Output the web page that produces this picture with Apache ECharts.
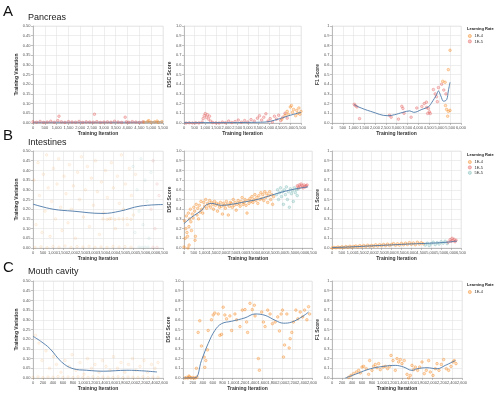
<!DOCTYPE html>
<html><head><meta charset="utf-8">
<script src="https://cdn.jsdelivr.net/npm/echarts@6/dist/echarts.min.js"></script>
<style>html,body{margin:0;padding:0;background:#fff}#c{width:500px;height:394px}</style>
</head><body><div id="c"></div>
<script>
// ---------- labels ----------
const rowTitles = ['Pancreas', 'Intestines', 'Mouth cavity'];
const rowLetters = ['A', 'B', 'C'];
const legendRows = [['1E-4', '1E-5'], ['1E-4', '1E-5', '5E-5'], ['1E-4']];
const yNames = ['Training Variation', 'DSC Score', 'F1 Score'];
const xName = 'Training Iteration';

// ---------- Row A: Pancreas ----------
const pancVarRed = [[0,0.006],[150,0.004],[300,0.008],[450,0.003],[600,0.005],[750,0.009],[900,0.004],[1050,0.012],[1100,0.035],[1200,0.006],[1350,0.003],[1500,0.007],[1650,0.005],[1800,0.004],[1950,0.008],[2100,0.003],[2250,0.006],[2400,0.005],[2550,0.004],[2600,0.045],[2700,0.007],[2850,0.003],[3000,0.005],[3150,0.006],[3300,0.004],[3450,0.009],[3600,0.005],[3750,0.003],[3900,0.03],[3950,0.006],[4050,0.004],[4200,0.007],[4350,0.005],[4500,0.003],[4650,0.006]];
const pancVarOrange = [[4700,0.005],[4850,0.008],[4900,0.012],[5000,0.004],[5150,0.006],[5250,0.01],[5300,0.003],[5450,0.007]];
const pancVarTrend = [[0,0.004],[1000,0.004],[2000,0.004],[3000,0.004],[4000,0.004],[5000,0.005],[5500,0.005]];

const pancDscRed = [[100,0],[250,0.002],[400,0],[550,0.003],[700,0.001],[850,0.01],[900,0.045],[950,0.075],[1000,0.097],[1050,0.06],[1100,0.085],[1150,0.04],[1200,0.07],[1250,0.02],[1350,0.005],[1500,0.002],[1650,0],[1800,0.01],[1950,0.003],[2100,0.02],[2250,0.005],[2400,0.015],[2550,0.03],[2700,0.008],[2850,0.025],[3000,0.01],[3150,0.035],[3300,0.02],[3450,0.05],[3550,0.075],[3650,0.03],[3750,0.06],[3850,0.095],[3950,0.02],[4050,0.045],[4150,0.01],[4250,0.07],[4350,0.04],[4450,0.08],[4550,0.025],[4650,0.06],[4750,0.1],[4850,0.05]];
const pancDscOrange = [[4600,0.04],[4750,0.08],[4850,0.12],[4900,0.09],[5000,0.165],[5050,0.18],[5100,0.11],[5150,0.14],[5250,0.075],[5300,0.13],[5350,0.1],[5400,0.155],[5450,0.09],[5500,0.12]];
const pancDscTrend = [[0,0.003],[1000,0.004],[2000,0.004],[3000,0.006],[3600,0.008],[4000,0.015],[4500,0.045],[5000,0.08],[5500,0.11]];

const pancF1Red = [[1035,0.193],[1080,0.18],[1160,0.166],[1280,0.045],[2673,0.08],[2750,0.06],[3090,0.04],[3250,0.172],[3300,0.15],[3350,0.1],[3680,0.06],[3944,0.155],[4180,0.17],[4290,0.2],[4390,0.215],[4400,0.16],[4450,0.098],[4480,0.15],[4530,0.115],[4570,0.098],[4716,0.345],[4800,0.3],[4860,0.27],[4900,0.22],[4950,0.365],[5100,0.4],[5200,0.34],[5300,0.3]];
const pancF1Orange = [[5150,0.43],[5260,0.42],[5280,0.18],[5330,0.14],[5410,0.12],[5380,0.07],[5410,0.55],[5490,0.75],[5490,0.13]];
const pancF1Trend = [[1035,0.19],[1240,0.165],[1800,0.12],[2600,0.075],[2900,0.085],[3300,0.11],[3620,0.125],[3800,0.11],[4180,0.14],[4500,0.17],[4650,0.215],[4860,0.29],[4950,0.33],[5060,0.28],[5190,0.225],[5330,0.24],[5410,0.33],[5490,0.42]];

// ---------- Row B: Intestines ----------
const intVarOrange = [[100,0.003],[400,0.006],[700,0.002],[1000,0.008],[1300,0.004],[1600,0.01],[1900,0.003],[2200,0.007],[2500,0.005],[2800,0.009],[3100,0.004],[3400,0.006],[3700,0.003],[4000,0.008],[4300,0.005],[4600,0.007],[4900,0.004],
  [50,0.35],[150,0.12],[250,0.44],[320,0.27],[450,0.08],[520,0.38],[600,0.19],[680,0.48],[760,0.31],[850,0.06],[930,0.24],[1020,0.41],[1120,0.15],[1200,0.33],[1280,0.46],[1380,0.21],[1450,0.09],[1550,0.37],[1650,0.28],[1750,0.13],[1820,0.43],[1920,0.2],[2020,0.32],[2120,0.05],[2230,0.39],[2330,0.25],[2420,0.47],[2520,0.16],[2620,0.3],[2720,0.42],[2820,0.11],[2920,0.36],[3020,0.22],[3120,0.45],[3220,0.29],[3320,0.07],[3420,0.34],[3520,0.18],[3620,0.4],[3720,0.26],[3820,0.15],[3920,0.44],[4020,0.31],[4120,0.1],[4220,0.37],[4320,0.23],[4420,0.48],[4520,0.2],[4620,0.33],[4720,0.12],[4820,0.41],[4920,0.27],[5020,0.17],[5120,0.38],
  [3500,0.15],[3700,0.148],[3900,0.152],[4100,0.147],[4300,0.15],[4500,0.149],[4700,0.151],[4900,0.148]];
const intVarRed = [[5900,0.2],[6000,0.45],[6100,0.1],[6200,0.33],[6300,0.27],[6000,0.004],[6200,0.003]];
const intVarTeal = [[5000,0.42],[5100,0.08],[5200,0.3],[5300,0.19],[5400,0.46],[5500,0.12],[5600,0.35],[5700,0.24],[5800,0.05],[5300,0.005],[5600,0.004],[5900,0.39],[5450,0.003],[5750,0.005]];
const intVarTrend = [[0,0.226],[1000,0.2],[2000,0.19],[3500,0.178],[4350,0.19],[5350,0.216],[6500,0.224]];

const intDscOrange = [[0,0.01],[30,0.28],[60,0.1],[90,0.2],[120,0.33],[150,0.16],[180,0.12],[200,0.0],[220,0.36],[250,0.22],[260,0.03],[280,0.3],[320,0.4],[350,0.27],[380,0.18],[420,0.35],[460,0.31],[500,0.42],[540,0.38],[560,0.08],[580,0.12],[620,0.45],[660,0.34],[700,0.41],[740,0.3],[780,0.44],[820,0.37],[860,0.48],[900,0.4],[950,0.36],[1000,0.47],[1050,0.43],[1100,0.5],[1150,0.41],[1200,0.46],[1250,0.44],[1300,0.49],[1350,0.42],[1400,0.47],[1450,0.45],[1500,0.4],[1550,0.48],[1600,0.44],[1650,0.46],[1700,0.38],[1750,0.45],[1800,0.42],[1850,0.47],[1900,0.43],[1950,0.35],[2000,0.46],[2050,0.44],[2100,0.41],[2150,0.48],[2200,0.45],[2250,0.34],[2300,0.43],[2350,0.47],[2400,0.46],[2450,0.42],[2500,0.5],[2550,0.44],[2600,0.47],[2650,0.39],[2700,0.45],[2750,0.49],[2800,0.46],[2850,0.43],[2900,0.48],[2950,0.52],[3000,0.45],[3050,0.47],[3100,0.5],[3150,0.44],[3200,0.36],[3250,0.49],[3300,0.46],[3350,0.51],[3400,0.48],[3450,0.53],[3500,0.47],[3550,0.5],[3600,0.55],[3650,0.49],[3700,0.52],[3750,0.46],[3800,0.54],[3850,0.5],[3900,0.57],[3950,0.51],[4000,0.55],[4050,0.49],[4100,0.58],[4150,0.52],[4200,0.56],[4250,0.47],[4300,0.54],[4350,0.58],[4400,0.5],[4450,0.55],[4500,0.45],[4550,0.53]];
const intDscRed = [[5750,0.64],[5800,0.62],[5850,0.65],[5900,0.63],[5950,0.66],[6000,0.64],[6050,0.62],[6100,0.65],[6150,0.63],[6200,0.64],[6250,0.65]];
const intDscTeal = [[4700,0.55],[4750,0.6],[4800,0.5],[4850,0.57],[4900,0.62],[4950,0.53],[5000,0.58],[5050,0.45],[5100,0.6],[5150,0.55],[5200,0.63],[5250,0.5],[5300,0.58],[5350,0.42],[5400,0.61],[5450,0.56],[5500,0.59],[5550,0.48],[5600,0.62],[5650,0.57],[5700,0.6],[5750,0.54],[5800,0.61]];
const intDscTrend = [[0,0.25],[400,0.32],[900,0.39],[1100,0.44],[1400,0.46],[1900,0.44],[2400,0.45],[3100,0.476],[3800,0.504],[4450,0.545],[5150,0.586],[5800,0.614],[6300,0.63]];

const intF1Orange = [[0,0.0],[100,0.006],[200,0.002],[300,0.01],[400,0.004],[500,0.012],[600,0.005],[700,0.015],[800,0.007],[900,0.018],[1000,0.009],[1100,0.016],[1200,0.021],[1300,0.011],[1400,0.024],[1500,0.014],[1600,0.026],[1700,0.015],[1800,0.029],[1900,0.018],[2000,0.027],[2100,0.019],[2200,0.033],[2300,0.02],[2400,0.034],[2500,0.023],[2600,0.037],[2700,0.024],[2800,0.04],[2900,0.026],[3000,0.036],[3100,0.045],[3200,0.028],[3300,0.043],[3400,0.03],[3500,0.048],[3600,0.033],[3700,0.05],[3800,0.036],[3900,0.055],[4000,0.038],[4100,0.052],[4200,0.033],[4300,0.06],[4400,0.04],[4500,0.054],[4600,0.043]];
const intF1Red = [[5850,0.06],[5950,0.085],[6000,0.07],[6050,0.1],[6100,0.075],[6150,0.09],[6200,0.065],[6250,0.08]];
const intF1Teal = [[4700,0.03],[4800,0.05],[4900,0.025],[5000,0.045],[5100,0.06],[5200,0.035],[5300,0.055],[5400,0.04],[5500,0.065],[5600,0.05],[5700,0.07],[5800,0.045]];
const intF1Trend = [[0,0.004],[1000,0.012],[2000,0.022],[3000,0.032],[4000,0.042],[5000,0.05],[5800,0.06],[6300,0.072]];

// ---------- Row C: Mouth cavity ----------
const mouthVarOrange = [[0,0.003],[100,0.006],[200,0.002],[300,0.005],[400,0.004],[500,0.007],[600,0.003],[700,0.005],[800,0.002],[900,0.006],[1000,0.004],[1100,0.003],[1200,0.006],[1300,0.002],[1400,0.005],[1500,0.004],[1600,0.003],[1700,0.006],[1800,0.002],[1900,0.005],[2000,0.004],[2100,0.003],[2200,0.006],[2300,0.002],[2400,0.005],[2500,0.004],
  [50,0.22],[120,0.18],[180,0.09],[260,0.14],[330,0.05],[410,0.11],[470,0.07],[560,0.03],[640,0.09],[720,0.06],[780,0.12],[860,0.04],[940,0.08],[1020,0.02],[1090,0.1],[1170,0.05],[1240,0.07],[1320,0.03],[1390,0.09],[1460,0.06],[1540,0.04],[1610,0.11],[1690,0.05],[1760,0.08],[1840,0.03],[1910,0.07],[1990,0.1],[2060,0.04],[2140,0.06],[2220,0.09],[2290,0.03],[2370,0.07],[2440,0.05],[2500,0.08]];
const mouthVarTrend = [[0,0.215],[150,0.19],[336,0.152],[570,0.083],[800,0.048],[1073,0.04],[1410,0.035],[1877,0.04],[2480,0.031]];

const mouthDscOrange = [[40,0],[70,0.005],[100,0],[120,0.02],[130,0.01],[160,0],[190,0.005],[220,0],[250,0.0],[280,0.01],[270,0.1],[305,0.47],[338,0.59],[372,0.33],[426,0.216],[439,0.11],[460,0.18],[494,0.29],[507,0.49],[574,0.6],[608,0.65],[642,0.67],[710,0.66],[743,0.44],[777,0.45],[810,0.73],[844,0.65],[878,0.61],[945,0.64],[980,0.49],[1047,0.66],[1080,0.6],[1148,0.53],[1195,0.7],[1249,0.705],[1282,0.577],[1302,0.47],[1350,0.77],[1397,0.705],[1438,0.75],[1452,0.64],[1519,0.2],[1539,0.08],[1587,0.68],[1620,0.577],[1654,0.53],[1708,0.7],[1755,0.66],[1802,0.56],[1857,0.577],[1910,0.63],[1944,0.485],[1978,0.66],[2005,0.7],[2025,0.216],[2046,0.34],[2093,0.66],[2140,0.31],[2160,0.405],[2193,0.47],[2227,0.577],[2275,0.7],[2315,0.61],[2362,0.68],[2410,0.63],[2450,0.7],[2497,0.6],[2531,0.735],[2551,0.66]];
const mouthDscTrend = [[0,0],[237,0.0],[372,0.18],[507,0.355],[642,0.49],[777,0.56],[980,0.585],[1249,0.62],[1452,0.66],[1654,0.646],[1857,0.595],[2025,0.565],[2193,0.577],[2396,0.63],[2531,0.68]];

const mouthF1Orange = [[333,0.007],[379,0.027],[432,0.045],[486,0.062],[533,0.079],[566,0.052],[600,0.113],[633,0.12],[686,0.096],[733,0.038],[753,0.18],[800,0.079],[833,0.12],[866,0.14],[900,0.106],[933,0.148],[966,0.086],[1020,0.113],[1066,0.12],[1113,0.096],[1153,0.12],[1180,0.233],[1220,0.18],[1266,0.079],[1300,0.2],[1333,0.165],[1366,0.19],[1400,0.148],[1446,0.18],[1500,0.038],[1533,0.0],[1566,0.027],[1600,0.13],[1633,0.086],[1666,0.113],[1713,0.079],[1753,0.113],[1800,0.165],[1846,0.045],[1886,0.079],[1933,0.18],[1966,0.062],[2020,0.027],[2066,0.096],[2100,0.148],[2140,0.079],[2186,0.14],[2233,0.19],[2286,0.096],[2333,0.079],[2380,0.12],[2420,0.165],[2446,0.18],[2480,0.148]];
const mouthF1Trend = [[266,0.0],[500,0.045],[766,0.095],[1033,0.12],[1266,0.13],[1433,0.113],[1600,0.079],[1700,0.095],[1900,0.106],[2100,0.095],[2266,0.13],[2466,0.18]];

// ---------- styling ----------
const ORANGE = '#f58518', RED = '#e45756', TEAL = '#72b7b2', BLUE = '#4c78a8';
const LEGEND_COLORS = {'1E-4':ORANGE, '1E-5':RED, '5E-5':TEAL};
const FONT = 'Liberation Sans, Arial, sans-serif';
const fmtX = v => String(v).replace(/\B(?=(\d{3})+(?!\d))/g, ',');
const fmtY = [v => v.toFixed(2), v => v.toFixed(1), v => (v === 1 ? '1' : v.toFixed(1))];
const yMax = [0.5, 1, 1], yInt = [0.05, 0.1, 0.1];
const hexA = (h, a) => 'rgba(' + [1,3,5].map(k => parseInt(h.substr(k,2),16)).join(',') + ',' + a + ')';

const panels = [
  {g:[33,26,130,97], xmax:5500, col:0, dense:true, s:[['1E-5',RED,pancVarRed],['1E-4',ORANGE,pancVarOrange]], t:pancVarTrend},
  {g:[184,26,117,97], xmax:5500, col:1, s:[['1E-5',RED,pancDscRed],['1E-4',ORANGE,pancDscOrange]], t:pancDscTrend},
  {g:[332,26,129,97], xmax:6000, col:2, s:[['1E-5',RED,pancF1Red],['1E-4',ORANGE,pancF1Orange]], t:pancF1Trend},
  {g:[33,151,130,97], xmax:6500, col:0, s:[['1E-4',ORANGE,intVarOrange],['5E-5',TEAL,intVarTeal],['1E-5',RED,intVarRed]], t:intVarTrend},
  {g:[184,151,128,97], xmax:6500, col:1, s:[['1E-4',ORANGE,intDscOrange],['5E-5',TEAL,intDscTeal],['1E-5',RED,intDscRed]], t:intDscTrend},
  {g:[332,151,129,97], xmax:6500, col:2, s:[['1E-4',ORANGE,intF1Orange],['5E-5',TEAL,intF1Teal],['1E-5',RED,intF1Red]], t:intF1Trend},
  {g:[33,281,130,97], xmax:2600, col:0, s:[['1E-4',ORANGE,mouthVarOrange]], t:mouthVarTrend},
  {g:[183,281,129,97], xmax:2600, col:1, s:[['1E-4',ORANGE,mouthDscOrange]], t:mouthDscTrend},
  {g:[332,281,130,97], xmax:2600, col:2, s:[['1E-4',ORANGE,mouthF1Orange]], t:mouthF1Trend}
];

const grid = [], xAxis = [], yAxis = [], series = [];
const axisCommon = {
  axisLine:{onZero:false, lineStyle:{color:'#999', width:0.6}},
  axisTick:{length:2, lineStyle:{color:'#999', width:0.6}},
  splitLine:{show:true, lineStyle:{color:'#e2e2e2', width:0.6}},
  nameLocation:'middle',
  nameTextStyle:{fontSize:5, fontWeight:'bold', color:'#333', fontFamily:FONT}
};
panels.forEach((p, i) => {
  grid.push({left:p.g[0], top:p.g[1], width:p.g[2], height:p.g[3], show:true, borderColor:'#e2e2e2', borderWidth:0.6});
  xAxis.push(Object.assign({}, axisCommon, {gridIndex:i, type:'value', min:0, max:p.xmax, interval:p.xmax > 3000 ? 500 : 200,
    name:xName, nameGap:8,
    axisLabel:{fontSize:4, color:'#555', margin:2.5, fontFamily:FONT, formatter:fmtX}}));
  yAxis.push(Object.assign({}, axisCommon, {gridIndex:i, type:'value', min:0, max:yMax[p.col], interval:yInt[p.col],
    name:yNames[p.col], nameGap:p.col === 0 ? 11 : 9,
    axisLabel:{fontSize:4, color:'#555', margin:2.5, fontFamily:FONT, formatter:fmtY[p.col]}}));
  const faint = p.col === 0 && !p.dense;
  p.s.forEach(([name, color, data]) => {
    series.push({type:'scatter', name, xAxisIndex:i, yAxisIndex:i, data, symbol:'circle', symbolSize:2.6,
      itemStyle:{color:hexA(color, faint ? 0.08 : 0.3), borderColor:hexA(color, faint ? 0.22 : 0.75), borderWidth:0.6},
      emphasis:{disabled:true}, z:p.dense ? 4 : 2});
  });
  series.push({type:'line', name:'trend', xAxisIndex:i, yAxisIndex:i, data:p.t, smooth:0.4, showSymbol:false,
    lineStyle:{color:BLUE, width:0.9}, z:3, silent:true});
});

const legendTops = [34, 160, 290];
const legend = legendRows.map((d, r) => ({
  data:d.map(n => ({name:n, itemStyle:{color:hexA(LEGEND_COLORS[n], 0.45), borderColor:LEGEND_COLORS[n], borderWidth:0.5}})),
  left:468, top:legendTops[r], orient:'vertical', icon:'circle', itemWidth:3.2, itemHeight:3.2, itemGap:1.4,
  textStyle:{fontSize:4, color:'#333', fontFamily:FONT, padding:[0,0,0,-2]}, padding:0, selectedMode:false
}));

const titles = [];
const rowTop = [4, 128, 260];
const nameTop = [13, 138, 267];
rowLetters.forEach((t, r) => {
  titles.push({text:t, left:3, top:rowTop[r], padding:0, textStyle:{fontSize:15, fontWeight:'normal', color:'#111', fontFamily:FONT}});
  titles.push({text:rowTitles[r], left:28, top:nameTop[r], padding:0, textStyle:{fontSize:9, fontWeight:'normal', color:'#222', fontFamily:FONT}});
  titles.push({text:'Learning Rate', left:467, top:legendTops[r] - 7, padding:0, textStyle:{fontSize:4, fontWeight:'bold', color:'#222', fontFamily:FONT}});
});

const chart = echarts.init(document.getElementById('c'), null, {renderer:'canvas'});
chart.setOption({animation:false, backgroundColor:'#fff', title:titles, legend, grid, xAxis, yAxis, series});
</script>
</body></html>
